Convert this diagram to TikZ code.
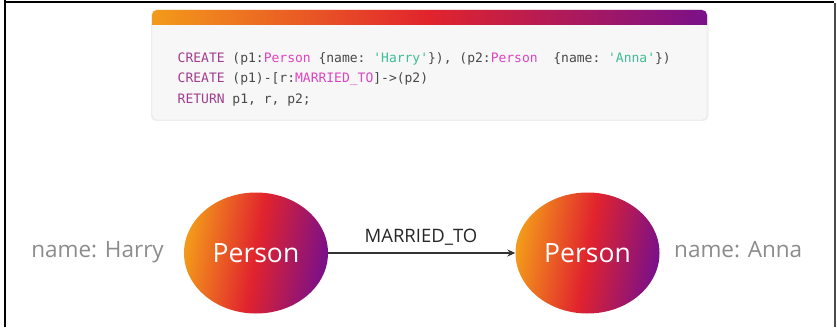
\documentclass[tikz,border=0pt]{standalone}
\usepackage{fontspec}
\setmainfont{Open Sans}
\setmonofont{DejaVu Sans Mono}
\usetikzlibrary{shapes.geometric,arrows.meta}

\definecolor{grOrange}{HTML}{F39A1A}
\definecolor{grRed}{HTML}{E1232D}
\definecolor{grPurple}{HTML}{7A1089}
\definecolor{kwColor}{HTML}{A13D8E}
\definecolor{lblColor}{HTML}{DD45C2}
\definecolor{strColor}{HTML}{3FBD98}
\definecolor{plainCode}{HTML}{484848}
\definecolor{propGray}{HTML}{8C8C8C}
\definecolor{boxFill}{HTML}{F7F7F7}
\definecolor{boxLine}{HTML}{E6E6E6}

\newcommand{\kw}[1]{\textcolor{kwColor}{#1}}
\newcommand{\lbl}[1]{\textcolor{lblColor}{#1}}
\newcommand{\str}[1]{\textcolor{strColor}{#1}}

\tikzset{
  codeline/.style={anchor=base west, inner sep=0pt, font=\ttfamily\fontsize{13}{13}\selectfont, text=plainCode},
  personnode/.style={ellipse, minimum width=144pt, minimum height=121pt, inner sep=0pt,
    left color=grOrange, right color=grPurple, middle color=grRed, shading angle=80,
    text=white, font=\fontsize{26.5}{26.5}\selectfont},
  proplabel/.style={inner sep=0pt, text=propGray, font=\fontsize{22.5}{22.5}\selectfont},
  rellabel/.style={anchor=base, inner sep=0pt, text=black!85, font=\fontsize{18.5}{18.5}\selectfont},
  relarrow/.style={draw=black!80, line width=1.1pt, -{Stealth[length=8pt,width=7pt]}},
  frameline/.style={line width=2pt}
}

\begin{document}
\begin{tikzpicture}[x=1pt,y=1pt]
  \useasboundingbox (0,0) rectangle (837,327);

  % outer frame (open at the bottom)
  \draw[frameline, black] (5,327) -- (5,325) -- (834,325);
  \draw[frameline, black] (5,0) -- (5,326);
  \draw[frameline, black!70] (834.5,0) -- (834.5,324);

  % code card with gradient header
  \fill[black!6, rounded corners=5pt] (151,206) rectangle (708.5,317);
  \filldraw[fill=boxFill, draw=boxLine, rounded corners=5pt] (152,207) rectangle (707,317);
  \begin{scope}
    \clip[rounded corners=5pt] (152,207) rectangle (707,317);
    \shade[left color=grOrange, right color=grPurple, middle color=grRed] (152,302) rectangle (707,317);
  \end{scope}

  % query text
  \node[codeline] (c1) at (177.5,264.5) {\kw{CREATE} (p1:\lbl{Person} \{name: \str{'Harry'}\}), (p2:\lbl{Person}\ \ \{name: \str{'Anna'}\})};
  \node[codeline] (c2) at (177.5,244) {\kw{CREATE} (p1)-[r:\lbl{MARRIED\_TO}]->(p2)};
  \node[codeline] (c3) at (177.5,223.5) {\kw{RETURN} p1, r, p2;};

  % graph
  \node[personnode] (p1) at (256,74) {Person};
  \node[personnode] (p2) at (587.5,74) {Person};
  \draw[relarrow] (p1) -- (p2);
  \node[rellabel] (rel) at (421,84.5) {MARRIED\_TO};

  \node[proplabel, anchor=base east] (h) at (164,70) {name: Harry};
  \node[proplabel, anchor=base west] (a) at (674,70) {name: Anna};
\end{tikzpicture}
\end{document}
